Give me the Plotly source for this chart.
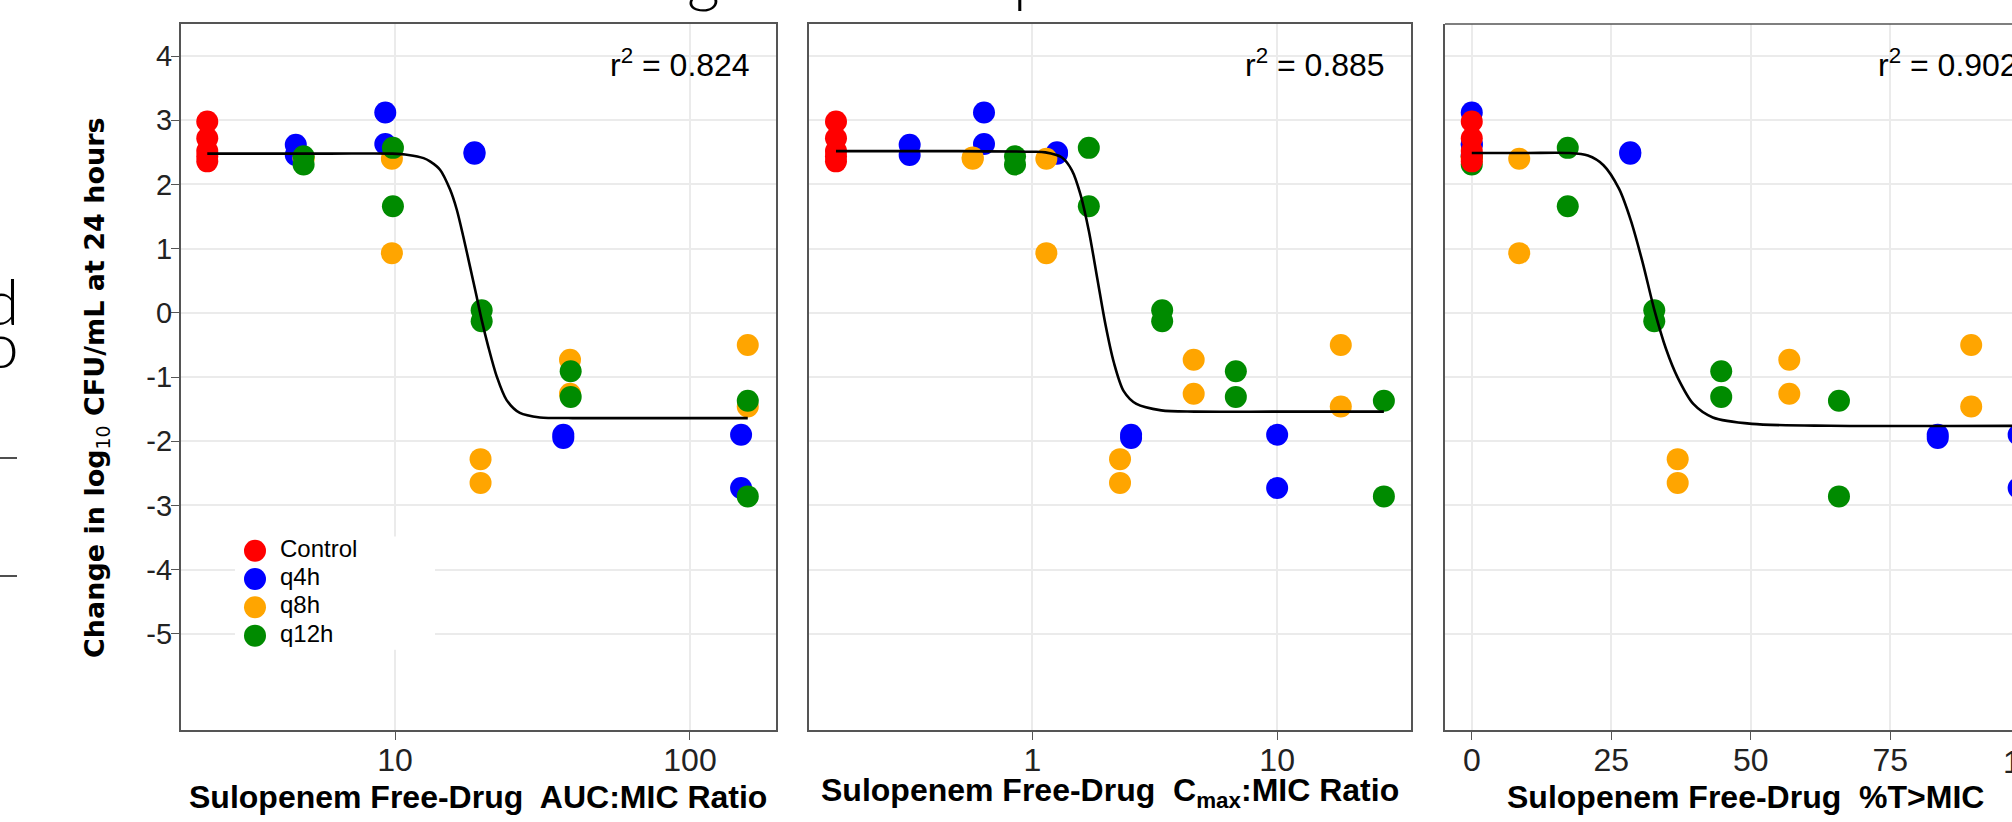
import plotly.graph_objects as go

W, H = 2012, 822

# ---------------- data ----------------
groups = ["Control", "q4h", "q8h", "q12h"]
group_colors = ["#FF0000", "#0000FF", "#FFA500", "#008B00"]

# change in log10 CFU/mL at 24 h
control_y = [2.98, 2.72, 2.52, 2.44, 2.36]
control_auc = [2.31, 2.31, 2.31, 2.31, 2.31]
control_cmax = [0.1575, 0.1575, 0.1575, 0.1575, 0.1575]
control_tmic = [0, 0, 0, 0, 0]

q4h_y = [2.62, 2.46, 3.12, 2.63, 2.50, 2.48, -1.90, -1.95, -1.90, -2.73]
q4h_auc = [4.61, 4.61, 9.27, 9.27, 18.6, 18.6, 37.2, 37.2, 149, 149]
q4h_cmax = [0.315, 0.315, 0.634, 0.634, 1.26, 1.26, 2.53, 2.53, 10.0, 10.0]
q4h_tmic = [0, 0, 0, 0, 28.4, 28.4, 83.5, 83.5, 98, 98]

q8h_y = [2.42, 2.40, 2.40, 0.93, -2.28, -2.65, -0.73, -1.26, -0.50, -1.46]
q8h_auc = [4.90, 4.90, 9.76, 9.76, 19.5, 19.5, 39.2, 39.2, 157, 157]
q8h_cmax = [0.570, 0.570, 1.14, 1.14, 2.28, 2.28, 4.56, 4.56, 18.2, 18.2]
q8h_tmic = [0, 0, 8.5, 8.5, 36.9, 36.9, 56.9, 56.9, 89.5, 89.5]

q12h_y = [2.44, 2.31, 2.57, 1.66, 0.04, -0.13, -0.91, -1.31, -1.37, -2.86]
q12h_auc = [4.90, 4.90, 9.84, 9.84, 19.67, 19.67, 39.4, 39.4, 157, 157]
q12h_cmax = [0.849, 0.849, 1.70, 1.70, 3.39, 3.39, 6.78, 6.78, 27.3, 27.3]
q12h_tmic = [0, 0, 17.2, 17.2, 32.7, 32.7, 44.7, 44.7, 65.8, 65.8]

# fitted sigmoid Emax curves
auc_fit_x = [2.31, 6.0, 9.8, 11.1, 12.5, 13.14, 14.21, 15.37, 16.19, 17.04, 17.96,
             18.92, 19.67, 20.72, 22.12, 23.9, 26.5, 31.0, 40.0, 53.6, 157]
auc_fit_y = [2.48, 2.48, 2.48, 2.46, 2.41, 2.36, 2.23, 1.92, 1.61, 1.19, 0.72,
             0.25, -0.11, -0.53, -0.99, -1.36, -1.56, -1.63, -1.64, -1.64, -1.64]
cmax_fit_x = [0.1575, 0.5, 1.0, 1.13, 1.32, 1.45, 1.57, 1.70, 1.84, 1.99, 2.15,
              2.36, 2.66, 3.36, 4.59, 10.0, 27.3]
cmax_fit_y = [2.52, 2.52, 2.51, 2.50, 2.42, 2.22, 1.85, 1.28, 0.54, -0.19, -0.77,
              -1.22, -1.42, -1.52, -1.54, -1.54, -1.54]
tmic_fit_x = [0, 10, 17.3, 20.8, 23.6, 26.4, 28.5, 30.6, 32.7, 34.8, 36.9, 39.7,
              43.2, 50.2, 64.2, 100]
tmic_fit_y = [2.49, 2.49, 2.49, 2.45, 2.30, 1.93, 1.44, 0.79, 0.05, -0.56, -1.01,
              -1.42, -1.63, -1.73, -1.76, -1.76]

r2_labels = ["0.824", "0.885", "0.902"]
y_ticks = [-5, -4, -3, -2, -1, 0, 1, 2, 3, 4]
y_ticktext = ["-5", "-4", "-3", "-2", "-1", "0", "1", "2", "3", "4"]
auc_ticks = [10, 100]
cmax_ticks = [1, 10]
tmic_ticks = [0, 25, 50, 75]

x_titles = [
    "<b>Sulopenem Free-Drug\u00a0 AUC:MIC Ratio</b>",
    "<b>Sulopenem Free-Drug\u00a0 C<sub>max</sub>:MIC Ratio</b>",
    "<b>Sulopenem Free-Drug\u00a0 %T>MIC</b>",
]
y_title = "<b>Change in log</b><sub>10</sub><b> CFU/mL at 24 hours</b>"

# ---------------- figure ----------------
FONT = "Liberation Sans, Arial, Helvetica, sans-serif"
LIGHT = "Lato, Open Sans, sans-serif"


def px_x(p):
    return p / W


def px_y(p):
    return 1 - p / H


fig = go.Figure()

# draw order: q4h, q8h, q12h, Control (control on top)
series = [
    ("q4h", "#0000FF", q4h_y, q4h_auc, q4h_cmax, q4h_tmic),
    ("q8h", "#FFA500", q8h_y, q8h_auc, q8h_cmax, q8h_tmic),
    ("q12h", "#008B00", q12h_y, q12h_auc, q12h_cmax, q12h_tmic),
    ("Control", "#FF0000", control_y, control_auc, control_cmax, control_tmic),
]
for name, col, ys, xa, xc, xt in series:
    for xs, xax, yax in ((xa, "x", "y"), (xc, "x2", "y2"), (xt, "x3", "y3")):
        fig.add_trace(go.Scatter(
            x=xs, y=ys, mode="markers", name=name, xaxis=xax, yaxis=yax,
            marker=dict(color=col, size=22, line=dict(width=0)),
            showlegend=False, cliponaxis=True))

for xs, ys, xax, yax in ((auc_fit_x, auc_fit_y, "x", "y"),
                         (cmax_fit_x, cmax_fit_y, "x2", "y2"),
                         (tmic_fit_x, tmic_fit_y, "x3", "y3")):
    fig.add_trace(go.Scatter(
        x=xs, y=ys, mode="lines", xaxis=xax, yaxis=yax, showlegend=False,
        line=dict(color="black", width=2.6, shape="spline", smoothing=0.8)))

# legend drawn on its own small categorical axis
fig.add_trace(go.Scatter(
    x=[0] * len(groups), y=groups, mode="markers", xaxis="x4", yaxis="y4",
    marker=dict(color=group_colors, size=22, line=dict(width=0)), showlegend=False))
fig.add_trace(go.Scatter(
    x=[1.25] * len(groups), y=groups, mode="text", text=groups, xaxis="x4", yaxis="y4",
    textposition="middle right", textfont=dict(family=FONT, size=24, color="black"),
    showlegend=False))

LINE = "#555555"
GRID = "#EBEBEB"
common_x = dict(showgrid=True, gridcolor=GRID, gridwidth=2, zeroline=False,
                showline=True, linecolor=LINE, linewidth=1.5, ticks="outside",
                ticklen=8, tickwidth=1.3, tickcolor=LINE, ticklabelstandoff=-7,
                tickfont=dict(family=FONT, size=32, color="#222222"), automargin=False)
common_y = dict(showgrid=True, gridcolor=GRID, gridwidth=2, zeroline=False,
                showline=True, linecolor=LINE, linewidth=1.5, range=[-6.5, 4.5],
                tickvals=y_ticks, automargin=False,
                domain=[px_y(730), px_y(24)])

fig.update_layout(
    width=W, height=H, autosize=False,
    margin=dict(l=0, r=0, t=0, b=0, pad=0),
    paper_bgcolor="white", plot_bgcolor="white",
    showlegend=False,
    xaxis=dict(common_x, type="log", domain=[px_x(180.6), px_x(775.6)],
               range=[0.2732, 2.2902], tickvals=auc_ticks,
               ticktext=[str(v) for v in auc_ticks], mirror=True, anchor="y"),
    xaxis2=dict(common_x, type="log", domain=[px_x(809.3), px_x(1411.2)],
                range=[-0.9118, 1.5478], tickvals=cmax_ticks,
                ticktext=[str(v) for v in cmax_ticks], mirror=True, anchor="y2"),
    xaxis3=dict(common_x, type="linear", domain=[px_x(1445), 1.0],
                range=[-4.8, (2012 - 1471.8) / 5.58], tickvals=tmic_ticks,
                ticktext=[str(v) for v in tmic_ticks], mirror=False, anchor="y3"),
    yaxis=dict(common_y, ticks="outside", ticklen=8, tickwidth=1.3, tickcolor=LINE,
               ticktext=y_ticktext, ticklabelstandoff=-7,
               tickfont=dict(family=FONT, size=29, color="#222222"),
               mirror=True, anchor="x"),
    yaxis2=dict(common_y, ticks="", showticklabels=False, mirror=True, anchor="x2"),
    yaxis3=dict(common_y, ticks="", showticklabels=False, mirror=False, anchor="x3"),
    xaxis4=dict(domain=[px_x(235), px_x(435)], range=[-1, 9], visible=False,
                anchor="y4", fixedrange=True),
    yaxis4=dict(domain=[px_y(649.8), px_y(536.5)], type="category",
                categoryorder="array", categoryarray=groups, range=[3.5, -0.5],
                visible=False, anchor="x4", fixedrange=True),
)

# top border of the (cropped) third panel
fig.add_shape(type="line", xref="paper", yref="paper",
              x0=px_x(1445), x1=1.0, y0=px_y(24), y1=px_y(24),
              line=dict(color=LINE, width=1.5))
# cut-off strokes of neighbouring artwork at the left edge (thin filled bars)
for yy in (458, 576):
    fig.add_shape(type="rect", xref="paper", yref="paper",
                  x0=0, x1=px_x(17), y0=px_y(yy + 0.8), y1=px_y(yy - 0.8),
                  fillcolor="#222222", line=dict(width=0))

ann = []
# r^2 labels
for lab, xr in zip(r2_labels, (750.5, 1385.5, 2019.5)):
    ann.append(dict(text=f"r<sup>2</sup> = {lab}", x=px_x(xr), y=px_y(84),
                    xref="paper", yref="paper", xanchor="right", yanchor="bottom",
                    showarrow=False, borderpad=0,
                    font=dict(family=FONT, size=32, color="black")))
# x-axis titles
for t, xc, yb in zip(x_titles, (478.1, 1110.2, 1745.4), (815.5, 813.5, 815.5)):
    ann.append(dict(text=t, x=px_x(xc), y=px_y(yb), xref="paper", yref="paper",
                    xanchor="center", yanchor="bottom", showarrow=False, borderpad=0,
                    font=dict(family=FONT, size=32, color="black")))
# cut-off tick label of the third panel
ann.append(dict(text="100", x=px_x(2029.8), y=px_y(743), xref="paper", yref="paper",
                xanchor="center", yanchor="top", showarrow=False, borderpad=0,
                font=dict(family=FONT, size=32, color="#222222")))
# y-axis title
ann.append(dict(text=y_title, x=px_x(96), y=px_y(388), xref="paper", yref="paper",
                xanchor="center", yanchor="middle", textangle=-90, showarrow=False,
                borderpad=0, font=dict(family="DejaVu Sans, sans-serif", size=27,
                                       color="black")))
# fragments of neighbouring text cut by the crop
for txt, xr, yb in (("d", 20, 339.5), ("o", 20, 383)):
    ann.append(dict(text=txt, x=px_x(xr), y=px_y(yb), xref="paper", yref="paper",
                    xanchor="right", yanchor="bottom", showarrow=False, borderpad=0,
                    font=dict(family=LIGHT, size=64, color="black", weight=300)))
for txt, xc, anchor in (("g", 703, "center"), ("p", 1012, "left")):
    ann.append(dict(text=txt, x=px_x(xc), y=px_y(15), xref="paper", yref="paper",
                    xanchor=anchor, yanchor="bottom", showarrow=False, borderpad=0,
                    font=dict(family=LIGHT, size=64, color="black", weight=300)))
fig.update_layout(annotations=ann)

fig.write_html("out.html",
               config={"displayModeBar": False},
               post_script="document.body.style.margin='0px';"
                           "document.body.style.overflow='hidden';")
